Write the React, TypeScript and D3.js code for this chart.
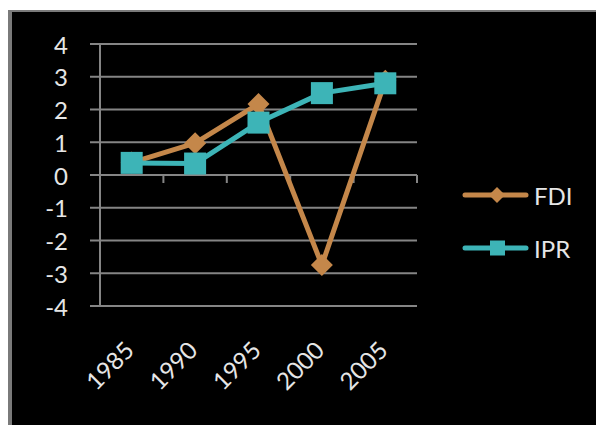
import React from "react";
import * as d3 from "d3";

const categories = ["1985", "1990", "1995", "2000", "2005"];
const fdiValues = [0.38, 0.97, 2.17, -2.75, 2.88];
const iprValues = [0.37, 0.35, 1.6, 2.5, 2.8];
const yTicks = [-4, -3, -2, -1, 0, 1, 2, 3, 4];
const seriesNames = ["FDI", "IPR"];

const W = 596;
const H = 425;
const FDI_COLOR = "#C4874A";
const IPR_COLOR = "#3DB4B7";
const GRID = "#858585";
const TEXT = "#E6E6E6";
const FONT = "Lato, 'Open Sans', sans-serif";

export default function App() {
  const x = d3.scaleBand<string>().domain(categories).range([100, 417]).padding(0);
  const y = d3.scaleLinear().domain([-4, 4]).range([306, 44]);
  const cx = (c: string) => (x(c) as number) + x.bandwidth() / 2;
  const line = d3
    .line<number>()
    .x((_, i) => cx(categories[i]))
    .y((d) => y(d));

  const diamond = (px: number, py: number, r: number) =>
    `M${px},${py - r}L${px + r},${py}L${px},${py + r}L${px - r},${py}Z`;

  const boundaries = [...categories.map((c) => x(c) as number), 417];

  const legendY = [195, 248];

  return (
    <svg
      width={W}
      height={H}
      style={{ position: "absolute", left: 0, top: 0, display: "block" }}
    >
      <rect x={0} y={0} width={W} height={H} fill="#ffffff" />
      <rect x={8} y={10} width={W - 8} height={H - 10} fill="#7a7a7a" />
      <rect x={12} y={12} width={W - 12} height={H - 12} fill="#000000" />

      {/* gridlines */}
      {yTicks.map((t) => (
        <line
          key={"g" + t}
          x1={90}
          x2={417}
          y1={y(t)}
          y2={y(t)}
          stroke={GRID}
          strokeWidth={2}
        />
      ))}
      {/* vertical axis */}
      <line x1={100} x2={100} y1={y(4)} y2={y(-4)} stroke={GRID} strokeWidth={2} />
      {/* category ticks on y=0 */}
      {boundaries.map((b, i) => (
        <line
          key={"t" + i}
          x1={b}
          x2={b}
          y1={y(0)}
          y2={y(0) + 8}
          stroke={GRID}
          strokeWidth={2}
        />
      ))}

      {/* y labels */}
      {yTicks.map((t) => (
        <text
          key={"yl" + t}
          x={68}
          y={y(t)}
          textAnchor="end"
          dominantBaseline="central"
          fill={TEXT}
          fontFamily={FONT}
          fontSize={24}
        >
          {t}
        </text>
      ))}

      {/* x labels */}
      {categories.map((c) => {
        const ax = cx(c) + 4;
        const ay = 352;
        return (
          <text
            key={"xl" + c}
            x={ax}
            y={ay}
            transform={`rotate(-45 ${ax} ${ay})`}
            textAnchor="end"
            fill={TEXT}
            fontFamily={FONT}
            fontSize={24}
          >
            {c}
          </text>
        );
      })}

      {/* FDI */}
      <path
        d={line(fdiValues) || ""}
        fill="none"
        stroke={FDI_COLOR}
        strokeWidth={5}
        strokeLinejoin="round"
      />
      {fdiValues.map((v, i) => (
        <path key={"fd" + i} d={diamond(cx(categories[i]), y(v), 11)} fill={FDI_COLOR} />
      ))}

      {/* IPR */}
      <path
        d={line(iprValues) || ""}
        fill="none"
        stroke={IPR_COLOR}
        strokeWidth={5}
        strokeLinejoin="round"
      />
      {iprValues.map((v, i) => (
        <rect
          key={"ip" + i}
          x={cx(categories[i]) - 11}
          y={y(v) - 11}
          width={22}
          height={22}
          fill={IPR_COLOR}
        />
      ))}

      {/* legend */}
      {seriesNames.map((name, i) => {
        const ly = legendY[i];
        const color = i === 0 ? FDI_COLOR : IPR_COLOR;
        return (
          <g key={"lg" + name}>
            <line
              x1={465}
              x2={526}
              y1={ly}
              y2={ly}
              stroke={color}
              strokeWidth={5}
              strokeLinecap="round"
            />
            {i === 0 ? (
              <path d={diamond(497, ly, 8)} fill={color} />
            ) : (
              <rect x={490} y={ly - 7.5} width={15} height={15} fill={color} />
            )}
            <text
              x={534}
              y={ly}
              dominantBaseline="central"
              fill={TEXT}
              fontFamily={FONT}
              fontSize={24}
            >
              {name}
            </text>
          </g>
        );
      })}
    </svg>
  );
}
